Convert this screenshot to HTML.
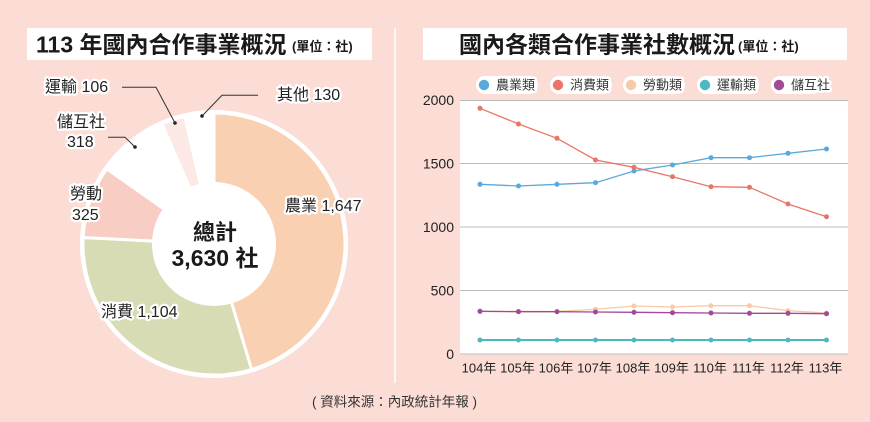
<!DOCTYPE html>
<html><head><meta charset="utf-8">
<style>
html,body{margin:0;padding:0;background:#fbddd6;}
svg{display:block;}
text{font-family:"Liberation Sans","Noto Sans CJK TC",sans-serif;}
.halo{stroke:#fff;stroke-width:4.5;stroke-linejoin:round;paint-order:stroke;fill:#222;font-size:16px;}
.lg{stroke:#fff;stroke-width:5;stroke-linejoin:round;paint-order:stroke;fill:#333;font-size:13px;}
</style></head>
<body>
<svg width="870" height="422" viewBox="0 0 870 422" xmlns="http://www.w3.org/2000/svg">
<rect width="870" height="422" fill="#fbddd6"/>
<!-- Left title -->
<rect x="27" y="28" width="345" height="32" fill="#fff"/>
<text x="36" y="52.5" font-size="23" font-weight="bold" fill="#1a1a1a">113 年國內合作事業概況</text>
<text x="292" y="51" font-size="13" font-weight="bold" fill="#1a1a1a">(單位：社)</text>
<!-- divider -->
<line x1="395" y1="28" x2="395" y2="383" stroke="#fff" stroke-width="1.5"/>
<!-- Right title -->
<rect x="423" y="28" width="424" height="32" fill="#fff"/>
<text x="459" y="52.5" font-size="23" font-weight="bold" fill="#1a1a1a">國內各類合作事業社數概況</text>
<text x="738" y="51" font-size="13" font-weight="bold" fill="#1a1a1a">(單位：社)</text>

<!-- Pie -->
<circle cx="214" cy="244" r="134" fill="#fff"/>
<g stroke="#fff" stroke-width="3" stroke-linejoin="round">
<path d="M214,244 L214,113 A131,131 0 0 1 251.55,369.5 Z" fill="#f9d0b1"/>
<path d="M214,244 L251.55,369.5 A131,131 0 0 1 83.16,237.53 Z" fill="#d8dcb4"/>
<path d="M214,244 L83.16,237.53 A131,131 0 0 1 106.75,168.78 Z" fill="#f8cdc4"/>
<path d="M214,244 L106.75,168.78 A131,131 0 0 1 161.97,123.77 Z" fill="#fff"/>
<path d="M214,244 L161.97,123.77 A131,131 0 0 1 184.78,116.3 Z" fill="#fce8e4"/>
<path d="M214,244 L184.78,116.3 A131,131 0 0 1 214,113 Z" fill="#fff"/>
</g>
<circle cx="214" cy="244" r="62" fill="#fff"/>
<text x="215" y="240" font-size="22" font-weight="bold" fill="#1a1a1a" text-anchor="middle">總計</text>
<text x="215" y="266" font-size="23" font-weight="bold" fill="#1a1a1a" text-anchor="middle">3,630 社</text>

<!-- leader lines -->
<g stroke="#333" stroke-width="1" fill="none">
<polyline points="122,87.3 156,87.3 175,123"/>
<polyline points="258,95.3 222,95.3 202,116"/>
<polyline points="108,137.3 125,137.3 135,147"/>
</g>
<g fill="#222">
<circle cx="175" cy="123" r="1.8"/>
<circle cx="202" cy="116" r="1.8"/>
<circle cx="135" cy="147" r="1.8"/>
</g>
<text class="halo" x="45" y="92">運輸 106</text>
<text class="halo" x="277" y="100">其他 130</text>
<text class="halo" x="57" y="127">儲互社</text>
<text class="halo" x="67" y="147">318</text>
<text class="halo" x="70" y="199">勞動</text>
<text class="halo" x="72" y="220">325</text>
<text class="halo" x="285" y="211">農業 1,647</text>
<text class="halo" x="101" y="317">消費 1,104</text>

<!-- Legend -->
<g>
<rect x="476" y="76" width="62" height="18" rx="9" fill="#fff"/>
<rect x="550" y="76" width="62" height="18" rx="9" fill="#fff"/>
<rect x="623" y="76" width="62" height="18" rx="9" fill="#fff"/>
<rect x="697" y="76" width="62" height="18" rx="9" fill="#fff"/>
<rect x="771" y="76" width="50" height="18" rx="9" fill="#fff"/>
<circle cx="484" cy="85" r="5.2" fill="#5aa9dc"/>
<circle cx="558" cy="85" r="5.2" fill="#e9756a"/>
<circle cx="631" cy="85" r="5.2" fill="#f8cba8"/>
<circle cx="705" cy="85" r="5.2" fill="#4db8bf"/>
<circle cx="779" cy="85" r="5.2" fill="#a04a98"/>
<text class="lg" x="496" y="89.5">農業類</text>
<text class="lg" x="570" y="89.5">消費類</text>
<text class="lg" x="643" y="89.5">勞動類</text>
<text class="lg" x="717" y="89.5">運輸類</text>
<text class="lg" x="791" y="89.5">儲互社</text>
</g>

<!-- Plot -->
<rect x="460" y="100" width="388" height="254" fill="#fff"/>
<g stroke="#bdbdbd" stroke-width="1">
<line x1="460" y1="100.5" x2="848" y2="100.5"/>
<line x1="460" y1="163.5" x2="848" y2="163.5"/>
<line x1="460" y1="227" x2="848" y2="227"/>
<line x1="460" y1="290.5" x2="848" y2="290.5"/>
<line x1="460" y1="354" x2="848" y2="354"/>
</g>
<g font-size="14" fill="#222" text-anchor="end">
<text x="454" y="105">2000</text>
<text x="454" y="168.5">1500</text>
<text x="454" y="232">1000</text>
<text x="454" y="295.5">500</text>
<text x="454" y="359">0</text>
</g>
<g font-size="13" fill="#222" text-anchor="middle">
<text x="479" y="372.5">104年</text>
<text x="517.5" y="372.5">105年</text>
<text x="556" y="372.5">106年</text>
<text x="594.5" y="372.5">107年</text>
<text x="633" y="372.5">108年</text>
<text x="671.5" y="372.5">109年</text>
<text x="710" y="372.5">110年</text>
<text x="748.5" y="372.5">111年</text>
<text x="787" y="372.5">112年</text>
<text x="825.5" y="372.5">113年</text>
</g>

<!-- series -->
<g fill="none" stroke-width="1.3">
<polyline stroke="#f8cba8" points="480,311.3 518.5,311.3 557,311.5 595.5,309.3 634,306 672.5,307 711,305.7 749.5,305.7 788,310.7 826.5,313"/>
<polyline stroke="#a04a98" points="480,311.3 518.5,311.7 557,311.7 595.5,312 634,312.3 672.5,312.7 711,313 749.5,313.3 788,313.3 826.5,313.7"/>
<polyline stroke="#4db8bf" stroke-width="2" points="480,340 826.5,340"/>
<polyline stroke="#5aa9dc" points="480,184.3 518.5,186 557,184.3 595.5,182.7 634,171 672.5,165 711,157.7 749.5,157.7 788,153.3 826.5,149"/>
<polyline stroke="#e9756a" points="480,108.3 518.5,124 557,138.3 595.5,160 634,167.3 672.5,176.7 711,186.7 749.5,187.3 788,204 826.5,216.7"/>
</g>
<g fill="#f8cba8">
<circle cx="480" cy="311.3" r="2.5"/><circle cx="518.5" cy="311.3" r="2.5"/><circle cx="557" cy="311.5" r="2.5"/><circle cx="595.5" cy="309.3" r="2.5"/><circle cx="634" cy="306" r="2.5"/><circle cx="672.5" cy="307" r="2.5"/><circle cx="711" cy="305.7" r="2.5"/><circle cx="749.5" cy="305.7" r="2.5"/><circle cx="788" cy="310.7" r="2.5"/><circle cx="826.5" cy="313" r="2.5"/>
</g>
<g fill="#a04a98">
<circle cx="480" cy="311.3" r="2.5"/><circle cx="518.5" cy="311.7" r="2.5"/><circle cx="557" cy="311.7" r="2.5"/><circle cx="595.5" cy="312" r="2.5"/><circle cx="634" cy="312.3" r="2.5"/><circle cx="672.5" cy="312.7" r="2.5"/><circle cx="711" cy="313" r="2.5"/><circle cx="749.5" cy="313.3" r="2.5"/><circle cx="788" cy="313.3" r="2.5"/><circle cx="826.5" cy="313.7" r="2.5"/>
</g>
<g fill="#4db8bf">
<circle cx="480" cy="340" r="2.5"/><circle cx="518.5" cy="340" r="2.5"/><circle cx="557" cy="340" r="2.5"/><circle cx="595.5" cy="340" r="2.5"/><circle cx="634" cy="340" r="2.5"/><circle cx="672.5" cy="340" r="2.5"/><circle cx="711" cy="340" r="2.5"/><circle cx="749.5" cy="340" r="2.5"/><circle cx="788" cy="340" r="2.5"/><circle cx="826.5" cy="340" r="2.5"/>
</g>
<g fill="#5aa9dc">
<circle cx="480" cy="184.3" r="2.5"/><circle cx="518.5" cy="186" r="2.5"/><circle cx="557" cy="184.3" r="2.5"/><circle cx="595.5" cy="182.7" r="2.5"/><circle cx="634" cy="171" r="2.5"/><circle cx="672.5" cy="165" r="2.5"/><circle cx="711" cy="157.7" r="2.5"/><circle cx="749.5" cy="157.7" r="2.5"/><circle cx="788" cy="153.3" r="2.5"/><circle cx="826.5" cy="149" r="2.5"/>
</g>
<g fill="#e9756a">
<circle cx="480" cy="108.3" r="2.5"/><circle cx="518.5" cy="124" r="2.5"/><circle cx="557" cy="138.3" r="2.5"/><circle cx="595.5" cy="160" r="2.5"/><circle cx="634" cy="167.3" r="2.5"/><circle cx="672.5" cy="176.7" r="2.5"/><circle cx="711" cy="186.7" r="2.5"/><circle cx="749.5" cy="187.3" r="2.5"/><circle cx="788" cy="204" r="2.5"/><circle cx="826.5" cy="216.7" r="2.5"/>
</g>

<!-- source -->
<text x="312" y="406.5" font-size="13.5" fill="#333">( 資料來源：內政統計年報 )</text>
</svg>
</body></html>
